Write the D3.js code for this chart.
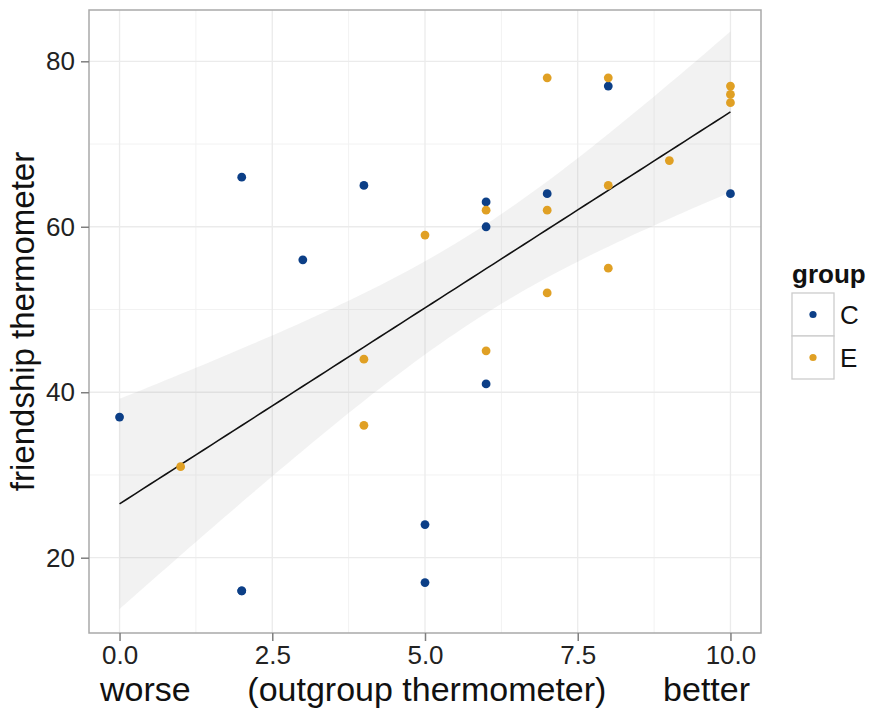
<!DOCTYPE html>
<html>
<head>
<meta charset="utf-8">
<script src="https://cdn.jsdelivr.net/npm/d3@7"></script>
<style>
  body { margin: 0; background: #fff; }
  text { font-family: "Liberation Sans", Arial, sans-serif; }
</style>
</head>
<body>
<svg id="chart" width="869" height="710"></svg>
<script>
// datos
const groups = ['C', 'E'];
const groupColors = ['#0c3f87', '#e0a024'];
// (2,16) aparece dos veces: el punto esta superpuesto y explica la recta ajustada
const outgroupC = [0, 2, 2, 2, 3, 4, 5, 5, 6, 6, 6, 7, 8, 10];
const friendshipC = [37, 66, 16, 16, 56, 65, 24, 17, 63, 60, 41, 64, 77, 64];
const outgroupE = [1, 4, 4, 5, 6, 6, 7, 7, 7, 8, 8, 8, 9, 10, 10, 10];
const friendshipE = [31, 44, 36, 59, 62, 45, 78, 62, 52, 78, 65, 55, 68, 77, 76, 75];
const xTicks = [0, 2.5, 5, 7.5, 10];
const yTicks = [20, 40, 60, 80];
const xMinor = [1.25, 3.75, 6.25, 8.75];
const yMinor = [30, 50, 70];

const points = [];
outgroupC.forEach((x, i) => points.push({ x: x, y: friendshipC[i], g: 'C' }));
outgroupE.forEach((x, i) => points.push({ x: x, y: friendshipE[i], g: 'E' }));

const svg = d3.select('#chart');
const pLeft = 89, pRight = 761, pTop = 10, pBottom = 633;

const x = d3.scaleLinear().domain([-0.5, 10.5]).range([pLeft, pRight]);
const y = d3.scaleLinear().domain([10.9, 86.2]).range([pBottom, pTop]);
const color = d3.scaleOrdinal().domain(groups).range(groupColors);

// grilla
const grid = svg.append('g');
grid.selectAll('.minx').data(xMinor).enter().append('line')
    .attr('x1', d => x(d)).attr('x2', d => x(d)).attr('y1', pTop).attr('y2', pBottom)
    .attr('stroke', '#f2f2f2').attr('stroke-width', 1);
grid.selectAll('.miny').data(yMinor).enter().append('line')
    .attr('y1', d => y(d)).attr('y2', d => y(d)).attr('x1', pLeft).attr('x2', pRight)
    .attr('stroke', '#f2f2f2').attr('stroke-width', 1);
grid.selectAll('.majx').data(xTicks).enter().append('line')
    .attr('x1', d => x(d)).attr('x2', d => x(d)).attr('y1', pTop).attr('y2', pBottom)
    .attr('stroke', '#ebebeb').attr('stroke-width', 1.3);
grid.selectAll('.majy').data(yTicks).enter().append('line')
    .attr('y1', d => y(d)).attr('y2', d => y(d)).attr('x1', pLeft).attr('x2', pRight)
    .attr('stroke', '#ebebeb').attr('stroke-width', 1.3);

// regresion lineal con intervalo de confianza 95%
const n = points.length;
const xbar = d3.mean(points, d => d.x);
const ybar = d3.mean(points, d => d.y);
const sxx = d3.sum(points, d => (d.x - xbar) ** 2);
const sxy = d3.sum(points, d => (d.x - xbar) * (d.y - ybar));
const slope = sxy / sxx;
const intercept = ybar - slope * xbar;
const sse = d3.sum(points, d => (d.y - intercept - slope * d.x) ** 2);
const s = Math.sqrt(sse / (n - 2));
const tq = 2.0484; // t(0.975, 28)
const xs = d3.range(0, 10.0001, 10 / 80);
const fit = xs.map(v => {
    const yhat = intercept + slope * v;
    const se = s * Math.sqrt(1 / n + (v - xbar) ** 2 / sxx);
    return { x: v, y: yhat, lo: yhat - tq * se, hi: yhat + tq * se };
});

svg.append('path')
    .datum(fit)
    .attr('d', d3.area().x(d => x(d.x)).y0(d => y(d.lo)).y1(d => y(d.hi)))
    .attr('fill', '#999999')
    .attr('fill-opacity', 0.13);

svg.append('path')
    .datum(fit)
    .attr('d', d3.line().x(d => x(d.x)).y(d => y(d.y)))
    .attr('fill', 'none')
    .attr('stroke', '#111')
    .attr('stroke-width', 1.6);

// puntos
svg.append('g')
    .selectAll('circle')
    .data(points)
    .enter().append('circle')
    .attr('cx', d => x(d.x))
    .attr('cy', d => y(d.y))
    .attr('r', 4.4)
    .attr('fill', d => color(d.g));

// borde del panel
svg.append('rect')
    .attr('x', pLeft).attr('y', pTop)
    .attr('width', pRight - pLeft).attr('height', pBottom - pTop)
    .attr('fill', 'none').attr('stroke', '#a9a9a9').attr('stroke-width', 1.5);

// ejes
const xAxis = svg.append('g')
    .attr('transform', `translate(0,${pBottom})`)
    .call(d3.axisBottom(x).tickValues(xTicks).tickFormat(d3.format('.1f')).tickSize(8).tickPadding(5));
const yAxis = svg.append('g')
    .attr('transform', `translate(${pLeft},0)`)
    .call(d3.axisLeft(y).tickValues(yTicks).tickSize(8).tickPadding(6));
[xAxis, yAxis].forEach(ax => {
    ax.select('.domain').remove();
    ax.selectAll('line').attr('stroke', '#7f7f7f').attr('stroke-width', 1.5);
    ax.selectAll('text').attr('fill', '#222').attr('font-size', 26)
        .style('font-family', '"Liberation Sans", Arial, sans-serif');
});

// titulos
svg.append('text')
    .attr('x', (pLeft + pRight) / 2)
    .attr('y', 701)
    .attr('text-anchor', 'middle')
    .attr('font-size', 34)
    .attr('fill', '#111')
    .style('white-space', 'pre')
    .text('worse      (outgroup thermometer)      better');

svg.append('text')
    .attr('transform', `translate(34,${(pTop + pBottom) / 2}) rotate(-90)`)
    .attr('text-anchor', 'middle')
    .attr('font-size', 33)
    .attr('fill', '#111')
    .text('friendship thermometer');

// leyenda
const legend = svg.append('g').attr('transform', 'translate(792,293)');
legend.append('text')
    .attr('x', 0).attr('y', -10)
    .attr('font-size', 26)
    .attr('font-weight', 'bold')
    .attr('fill', '#111')
    .text('group');
const keys = legend.selectAll('g.key')
    .data(groups)
    .enter().append('g')
    .attr('transform', (d, i) => `translate(0,${i * 43})`);
keys.append('rect')
    .attr('width', 42).attr('height', 43)
    .attr('fill', '#fff').attr('stroke', '#cccccc').attr('stroke-width', 1.3);
keys.append('circle')
    .attr('cx', 21).attr('cy', 21.5).attr('r', 3.6)
    .attr('fill', d => color(d));
keys.append('text')
    .attr('x', 48).attr('y', 31)
    .attr('font-size', 26)
    .attr('fill', '#111')
    .text(d => d);
</script>
</body>
</html>
